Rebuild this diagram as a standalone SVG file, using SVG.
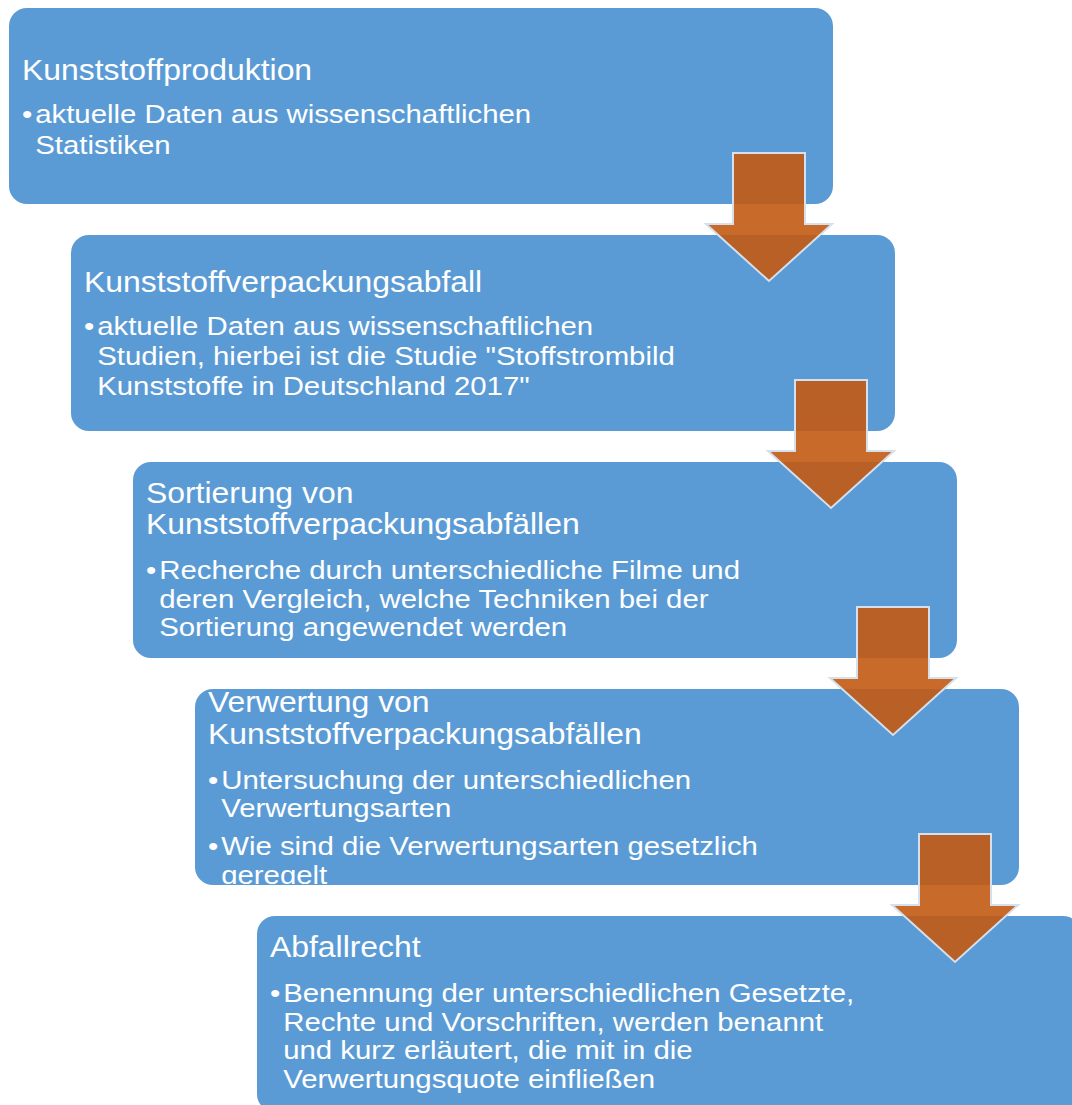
<svg xmlns="http://www.w3.org/2000/svg" width="1072" height="1105" viewBox="0 0 1072 1105">
  <style>
    .box { fill: #5B9BD5; }
    .t { font-family: "Liberation Sans", Arial, Helvetica, sans-serif; fill: #FFFFFF; }
    .ttl { font-size: 29px; }
    .bl { font-size: 26.7px; }
    .arrow { fill: #C25A13; fill-opacity: 0.9; stroke: #D6DFEC; stroke-width: 2; stroke-linejoin: miter; }
  </style>
  <defs>
    <clipPath id="clip4"><rect x="195" y="692" width="824" height="192"/></clipPath>
  </defs>

  <rect width="1072" height="1105" fill="#FFFFFF"/>

  <!-- step 1 -->
  <g id="node-kunststoffproduktion">
    <rect class="box" x="9" y="8" width="824" height="196" rx="18"/>
    <g class="t" transform="translate(22,0) scale(1.1,1)">
      <text class="ttl" x="0" y="80">Kunststoffproduktion</text>
      <text class="bl" x="0" y="123">•</text>
      <text class="bl" x="12" y="123">aktuelle Daten aus wissenschaftlichen</text>
      <text class="bl" x="12" y="154">Statistiken</text>
    </g>
  </g>

  <!-- step 2 -->
  <g id="node-verpackungsabfall">
    <rect class="box" x="71" y="235" width="824" height="196" rx="18"/>
    <g class="t" transform="translate(84,0) scale(1.1,1)">
      <text class="ttl" x="0" y="292">Kunststoffverpackungsabfall</text>
      <text class="bl" x="0" y="335">•</text>
      <text class="bl" x="12" y="335">aktuelle Daten aus wissenschaftlichen</text>
      <text class="bl" x="12" y="365">Studien, hierbei ist die Studie "Stoffstrombild</text>
      <text class="bl" x="12" y="395">Kunststoffe in Deutschland 2017"</text>
    </g>
  </g>

  <!-- step 3 -->
  <g id="node-sortierung">
    <rect class="box" x="133" y="462" width="824" height="196" rx="18"/>
    <g class="t" transform="translate(146,0) scale(1.1,1)">
      <text class="ttl" x="0" y="503">Sortierung von</text>
      <text class="ttl" x="0" y="534">Kunststoffverpackungsabfällen</text>
      <text class="bl" x="0" y="579">•</text>
      <text class="bl" x="12" y="579">Recherche durch unterschiedliche Filme und</text>
      <text class="bl" x="12" y="608">deren Vergleich, welche Techniken bei der</text>
      <text class="bl" x="12" y="636">Sortierung angewendet werden</text>
    </g>
  </g>

  <!-- step 4 (text overflows and is clipped to the box) -->
  <g id="node-verwertung">
    <rect class="box" x="195" y="689" width="824" height="196" rx="18"/>
    <g clip-path="url(#clip4)">
      <g class="t" transform="translate(208,0) scale(1.1,1)">
        <text class="ttl" x="0" y="712">Verwertung von</text>
        <text class="ttl" x="0" y="744">Kunststoffverpackungsabfällen</text>
        <text class="bl" x="0" y="789">•</text>
        <text class="bl" x="12" y="789">Untersuchung der unterschiedlichen</text>
        <text class="bl" x="12" y="817">Verwertungsarten</text>
        <text class="bl" x="0" y="855">•</text>
        <text class="bl" x="12" y="855">Wie sind die Verwertungsarten gesetzlich</text>
        <text class="bl" x="12" y="884">geregelt</text>
      </g>
    </g>
  </g>

  <!-- step 5 -->
  <g id="node-abfallrecht">
    <rect class="box" x="257" y="916" width="824" height="196" rx="18"/>
    <g class="t" transform="translate(270,0) scale(1.1,1)">
      <text class="ttl" x="0" y="957">Abfallrecht</text>
      <text class="bl" x="0" y="1002">•</text>
      <text class="bl" x="12" y="1002">Benennung der unterschiedlichen Gesetzte,</text>
      <text class="bl" x="12" y="1031">Rechte und Vorschriften, werden benannt</text>
      <text class="bl" x="12" y="1059">und kurz erläutert, die mit in die</text>
      <text class="bl" x="12" y="1088">Verwertungsquote einfließen</text>
    </g>
  </g>

  <!-- down arrows between the steps -->
  <g id="connectors">
    <polygon class="arrow" points="733,153 805,153 805,224 832,224 769,281 706,224 733,224"/>
    <polygon class="arrow" points="795,380 867,380 867,451 894,451 831,508 768,451 795,451"/>
    <polygon class="arrow" points="857,607 929,607 929,678 956,678 893,735 830,678 857,678"/>
    <polygon class="arrow" points="919,834 991,834 991,905 1018,905 955,962 892,905 919,905"/>
  </g>
</svg>
